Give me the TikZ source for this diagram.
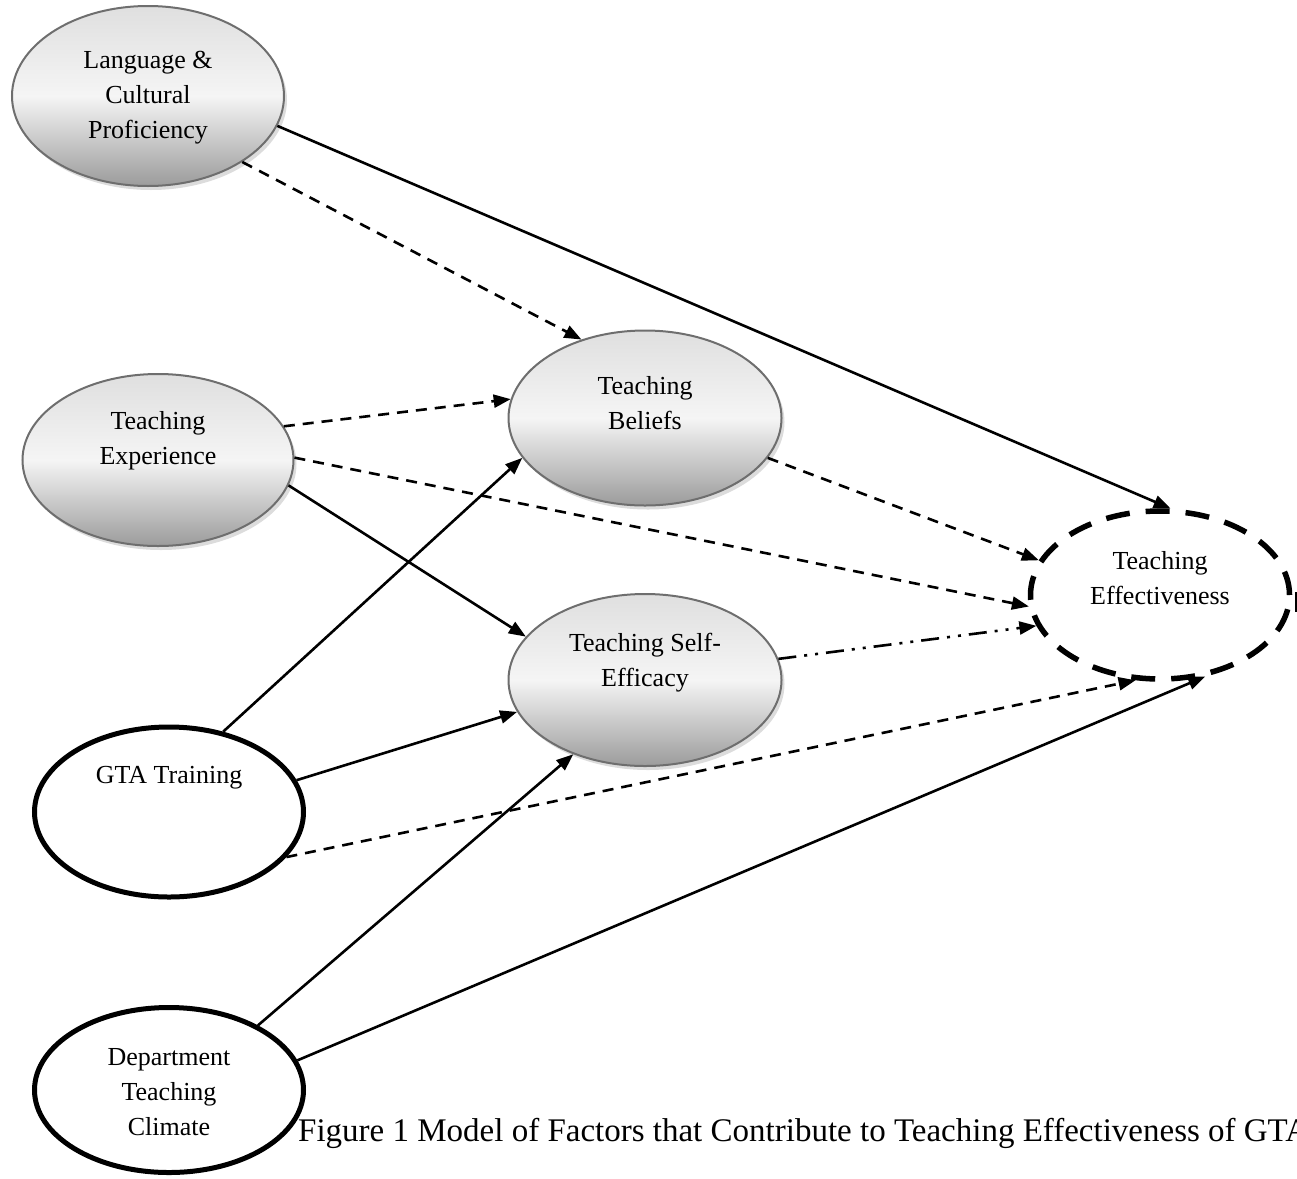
\documentclass[tikz,border=0pt]{standalone}
\usepackage{fontspec}
\setmainfont{Liberation Serif}
\usetikzlibrary{arrows.meta, shapes.geometric, shadows}
\definecolor{rim}{HTML}{6E6E6E}
\tikzset{
  >={Triangle[length=17pt, width=13pt]},
  every picture/.style={line join=miter},
  txt/.style={font=\fontsize{26}{35}\selectfont, align=center, inner sep=0pt},
  % shaded factors (Word-like gradient with a small drop shadow)
  factor/.style={ellipse, draw=rim, line width=2pt, inner sep=0pt,
    top color=gray!25, bottom color=gray!78, middle color=gray!8,
    drop shadow={shadow xshift=3pt, shadow yshift=-4pt, fill=gray!55}},
  % context variables: plain white, heavy rim
  context/.style={ellipse, draw, line width=5pt, fill=white, inner sep=0pt},
  % outcome: heavy dashed rim
  outcome/.style={ellipse, draw, line width=5.5pt, dash pattern=on 24pt off 16pt, inner sep=0pt},
  direct/.style={->, line width=2.6pt},
  indirect/.style={->, line width=2.6pt, dash pattern=on 11pt off 8pt},
  mediated/.style={->, line width=2.6pt, dash pattern=on 18pt off 8pt on 3pt off 8pt on 3pt off 8pt},
  capt/.style={font=\fontsize{33}{38}\selectfont, inner sep=0pt},
}

\begin{document}
\begin{tikzpicture}[x=1pt, y=-1pt]
  \useasboundingbox (0,0) rectangle (1297,1178);
  \clip (0,0) rectangle (1297,1178);
  % ---------------- factors
  \node[factor, minimum width=272pt, minimum height=180pt,
    label={[txt, yshift=-2pt]center:Language \&\\Cultural\\Proficiency}] (lang) at (148,96) {};
  \node[factor, minimum width=271pt, minimum height=172pt,
    label={[txt, yshift=19pt]center:Teaching\\Experience}] (exper) at (158,460) {};
  \node[factor, minimum width=273pt, minimum height=175pt,
    label={[txt, yshift=15pt]center:Teaching\\Beliefs}] (beliefs) at (645,418) {};
  \node[factor, minimum width=273pt, minimum height=172pt,
    label={[txt, yshift=17pt]center:Teaching Self-\\Efficacy}] (selfeff) at (645,680) {};
  \node[outcome, minimum width=259pt, minimum height=168pt,
    label={[txt, yshift=17pt]center:Teaching\\Effectiveness}] (effect) at (1160,595) {};
  \node[context, minimum width=269pt, minimum height=170pt,
    label={[txt, yshift=34pt]center:GTA Training}] (gta) at (169,812) {};
  \node[context, minimum width=269pt, minimum height=165pt,
    label={[txt, yshift=-2pt]center:Department\\Teaching\\Climate}] (dept) at (169,1090) {};
  % ---------------- paths
  \draw[direct] (lang.-13) -- (effect.83);
  \draw[indirect] (lang.-35) -- (beliefs.129);
  \draw[indirect] (exper.15) -- (beliefs.172);
  \draw[indirect] (exper.1) -- (effect.185);
  \draw[direct] (exper.-11) -- (selfeff.160);
  \draw[direct] (gta.56) -- (beliefs.198);
  \draw[direct] (gta.14) -- (selfeff.194);
  \draw[indirect] (gta.-21) -- (effect.254);
  \draw[direct] (dept.36) -- (selfeff.226);
  \draw[direct] (dept.13) -- (effect.-61);
  \draw[indirect] (beliefs.-18) -- (effect.164);
  \draw[mediated] (selfeff.9) -- (effect.194);
  \draw[line width=2pt] (1296,592) -- (1296,612);
  % ---------------- caption
  \node[capt, anchor=base west] (caption) at (298,1141)
    {Figure 1 Model of Factors that Contribute to Teaching Effectiveness of GTA};
\end{tikzpicture}
\end{document}
